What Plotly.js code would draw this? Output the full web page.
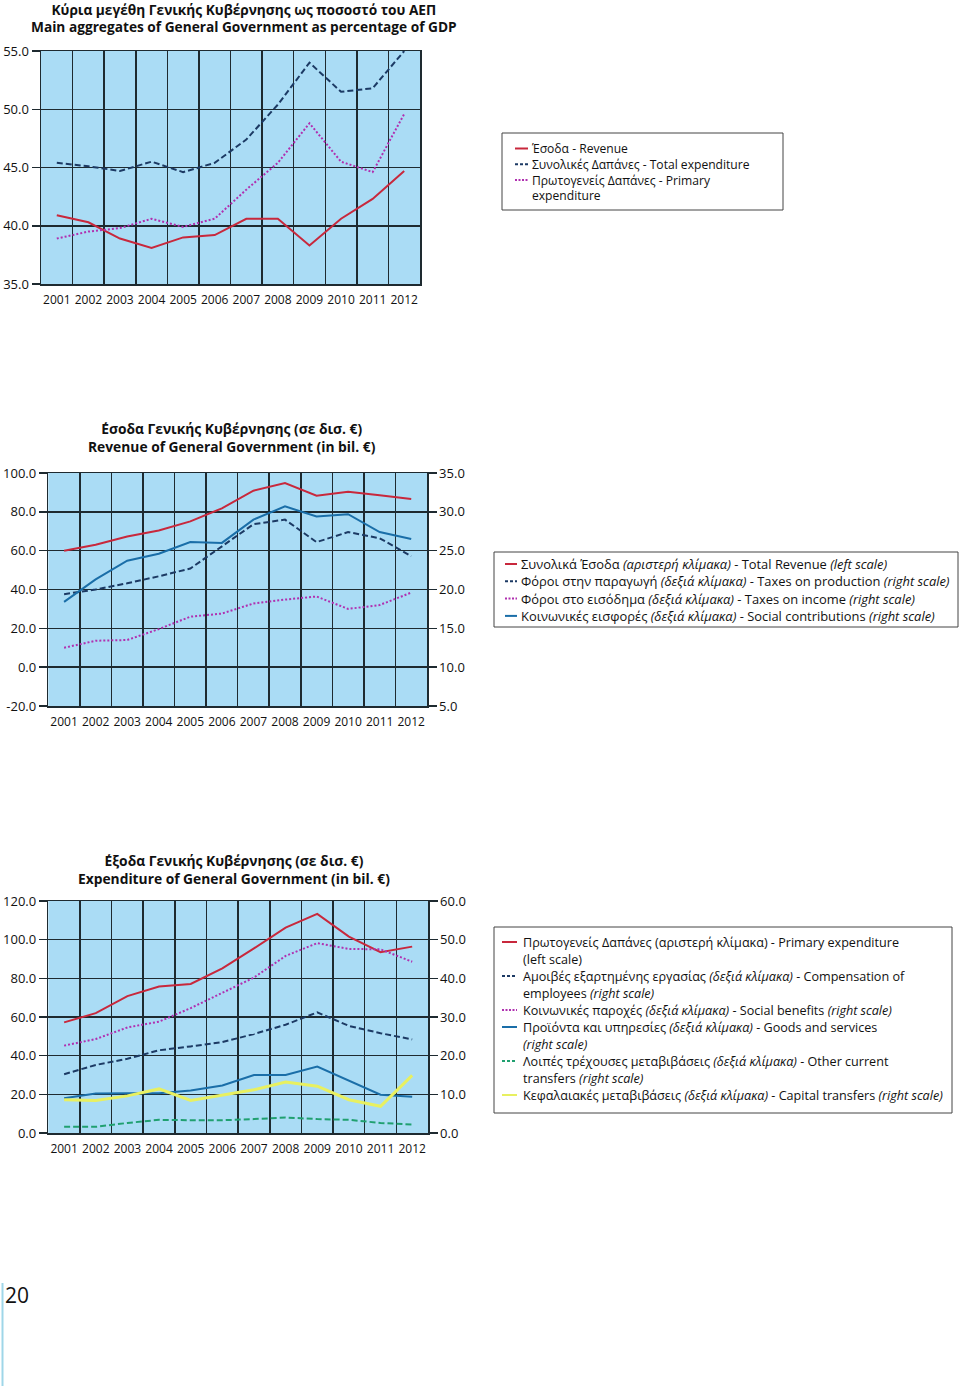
<!DOCTYPE html>
<html><head><meta charset="utf-8">
<script src="https://cdn.plot.ly/plotly-3.0.1.min.js"></script>
<style>html,body{margin:0;padding:0;background:#fff}#chart{width:960px;height:1386px}</style>
</head><body><div id="chart"></div>
<script>
// ---------- DATA ----------
const years = ['2001','2002','2003','2004','2005','2006','2007','2008','2009','2010','2011','2012'];

// Chart 1: % of GDP
const gdpRevenue      = [40.9, 40.3, 38.9, 38.1, 39.0, 39.2, 40.6, 40.6, 38.3, 40.6, 42.3, 44.7];
const gdpTotalExp     = [45.4, 45.1, 44.7, 45.5, 44.6, 45.4, 47.4, 50.4, 54.0, 51.5, 51.8, 55.0];
const gdpPrimaryExp   = [38.9, 39.5, 39.8, 40.6, 39.9, 40.6, 43.1, 45.4, 48.8, 45.5, 44.6, 49.6];

// Chart 2: Revenue (bil. €)
const revTotal        = [60.0, 63.0, 67.3, 70.4, 75.1, 81.8, 90.9, 94.8, 88.3, 90.4, 88.5, 86.6];
const revProdTaxes    = [19.4, 20.0, 20.8, 21.7, 22.7, 25.6, 28.4, 29.0, 26.1, 27.4, 26.6, 24.3];
const revIncomeTaxes  = [12.5, 13.4, 13.5, 14.9, 16.5, 16.9, 18.2, 18.7, 19.1, 17.5, 18.0, 19.6];
const revSocialContr  = [18.4, 21.3, 23.7, 24.6, 26.1, 26.0, 29.0, 30.7, 29.4, 29.7, 27.4, 26.5];

// Chart 3: Expenditure (bil. €)
const expPrimary      = [57.2, 62.0, 70.8, 75.8, 77.1, 85.2, 95.5, 106.2, 113.3, 101.6, 93.5, 96.4];
const expCompensation = [15.2, 17.6, 19.2, 21.4, 22.4, 23.5, 25.6, 28.0, 31.2, 27.7, 25.8, 24.2];
const expSocialBen    = [22.6, 24.3, 27.3, 28.8, 32.3, 36.2, 40.2, 45.8, 49.1, 47.6, 47.5, 44.3];
const expGoods        = [9.0, 10.2, 10.3, 10.3, 11.0, 12.3, 15.0, 15.0, 17.2, 13.6, 9.9, 9.4];
const expOtherTransf  = [1.6, 1.6, 2.6, 3.4, 3.3, 3.3, 3.6, 4.0, 3.6, 3.4, 2.6, 2.2];
const expCapital      = [8.6, 8.4, 9.6, 11.4, 8.4, 9.8, 11.2, 13.2, 12.1, 8.6, 6.9, 14.9];

// Tick values
const gdpTicks       = [35, 40, 45, 50, 55];
const revLeftTicks   = [-20, 0, 20, 40, 60, 80, 100];
const revRightTicks  = [5, 10, 15, 20, 25, 30, 35];
const expLeftTicks   = [0, 20, 40, 60, 80, 100, 120];
const expRightTicks  = [0, 10, 20, 30, 40, 50, 60];

// Titles & legend texts
const title1 = ['Κύρια μεγέθη Γενικής Κυβέρνησης ως ποσοστό του ΑΕΠ', 'Main aggregates of General Government as percentage of GDP'];
const title2 = ['΄Εσοδα Γενικής Κυβέρνησης (σε δισ. €)', 'Revenue of General Government (in bil. €)'];
const title3 = ['΄Εξοδα Γενικής Κυβέρνησης (σε δισ. €)', 'Expenditure of General Government (in bil. €)'];

const legend1 = [
  ['Έσοδα - Revenue'],
  ['Συνολικές Δαπάνες - Total expenditure'],
  ['Πρωτογενείς Δαπάνες - Primary', 'expenditure']
];
const legend2 = [
  ['Συνολικά Έσοδα <i>(αριστερή κλίμακα)</i> - Total Revenue <i>(left scale)</i>'],
  ['Φόροι στην παραγωγή <i>(δεξιά κλίμακα)</i> - Taxes on production <i>(right scale)</i>'],
  ['Φόροι στο εισόδημα <i>(δεξιά κλίμακα)</i> - Taxes on income <i>(right scale)</i>'],
  ['Κοινωνικές εισφορές <i>(δεξιά κλίμακα)</i> - Social contributions <i>(right scale)</i>']
];
const legend3 = [
  ['Πρωτογενείς Δαπάνες (αριστερή κλίμακα) - Primary expenditure', '(left scale)'],
  ['Αμοιβές εξαρτημένης εργασίας <i>(δεξιά κλίμακα)</i> - Compensation of', 'employees <i>(right scale)</i>'],
  ['Κοινωνικές παροχές <i>(δεξιά κλίμακα)</i> - Social benefits <i>(right scale)</i>'],
  ['Προϊόντα και υπηρεσίες <i>(δεξιά κλίμακα)</i> - Goods and services', '<i>(right scale)</i>'],
  ['Λοιπές τρέχουσες μεταβιβάσεις <i>(δεξιά κλίμακα)</i> - Other current', 'transfers <i>(right scale)</i>'],
  ['Κεφαλαιακές μεταβιβάσεις <i>(δεξιά κλίμακα)</i> - Capital transfers <i>(right scale)</i>']
];

// ---------- STYLE ----------
const W = 960, H = 1386;
const FONT = 'Open Sans, Noto Sans, sans-serif';
const C = {
  red: '#c8283c', navy: '#1c3a64', magenta: '#b030b0', blue: '#1a6ea8',
  green: '#20a070', yellow: '#e8f060'
};
const ST = {
  red:     {color: C.red, width: 2, dash: 'solid'},
  navy:    {color: C.navy, width: 2, dash: '6px,3px'},
  magenta: {color: C.magenta, width: 2, dash: '2px,2px'},
  blue:    {color: C.blue, width: 2, dash: 'solid'},
  green:   {color: C.green, width: 2, dash: '6px,3px'},
  yellow:  {color: C.yellow, width: 3, dash: 'solid'}
};
const px = x => x / W;
const py = y => 1 - y / H;

function tr(y, style, xa, ya, name) {
  return {x: years, y: y, type: 'scatter', mode: 'lines', name: name,
    line: Object.assign({}, style), xaxis: xa, yaxis: ya, showlegend: false, hoverinfo: 'x+y'};
}

const data = [
  tr(gdpRevenue, ST.red, 'x', 'y', 'Revenue'),
  tr(gdpTotalExp, ST.navy, 'x', 'y', 'Total expenditure'),
  tr(gdpPrimaryExp, ST.magenta, 'x', 'y', 'Primary expenditure'),

  tr(revTotal, ST.red, 'x2', 'y2', 'Total Revenue'),
  tr(revProdTaxes, ST.navy, 'x2', 'y3', 'Taxes on production'),
  tr(revIncomeTaxes, ST.magenta, 'x2', 'y3', 'Taxes on income'),
  tr(revSocialContr, ST.blue, 'x2', 'y3', 'Social contributions'),

  tr(expPrimary, ST.red, 'x3', 'y4', 'Primary expenditure'),
  tr(expCompensation, ST.navy, 'x3', 'y5', 'Compensation of employees'),
  tr(expSocialBen, ST.magenta, 'x3', 'y5', 'Social benefits'),
  tr(expGoods, ST.blue, 'x3', 'y5', 'Goods and services'),
  tr(expOtherTransf, ST.green, 'x3', 'y5', 'Other current transfers'),
  tr(expCapital, ST.yellow, 'x3', 'y5', 'Capital transfers')
];

const GRID = '#1e2a30';
function xAxis(domain, anchor) {
  return {domain: domain, anchor: anchor, type: 'category', range: [-0.5, 11.5],
    tickson: 'boundaries', showgrid: true, gridcolor: GRID, gridwidth: 1.5,
    ticks: '', showline: true, linecolor: GRID, linewidth: 1.5, mirror: true,
    tickangle: 0, tickfont: {family: FONT, size: 12, color: '#111'}, ticklabelstandoff: 4,
    fixedrange: true, automargin: false, zeroline: false};
}
function yAxis(domain, anchor, range, ticks, side, overlay) {
  const a = {domain: domain, anchor: anchor, range: range, tickmode: 'array',
    tickvals: ticks, ticktext: ticks.map(v => v.toFixed(1)),
    ticks: 'outside', ticklen: 8, tickcolor: GRID, tickwidth: 1.5,
    showgrid: !overlay, gridcolor: GRID, gridwidth: 1.5, zeroline: false,
    showline: true, linecolor: GRID, linewidth: 1.5, side: side,
    tickfont: {family: FONT, size: 13, color: '#111'}, fixedrange: true, automargin: false};
  if (overlay) { a.overlaying = overlay; delete a.domain; a.mirror = false; }
  else { a.mirror = true; }
  return a;
}

const d1x = [px(41), px(420)], d1y = [py(284), py(51)];
const d2x = [px(48.3), px(427)], d2y = [py(706), py(473)];
const d3x = [px(48.3), px(428)], d3y = [py(1133), py(901)];

const layout = {
  width: W, height: H, margin: {l: 0, r: 0, t: 0, b: 0},
  paper_bgcolor: '#ffffff', plot_bgcolor: '#aadcf5',
  font: {family: FONT, color: '#111'},
  showlegend: false,
  xaxis: xAxis(d1x, 'y'),
  yaxis: yAxis(d1y, 'x', [35, 55], gdpTicks, 'left'),
  xaxis2: xAxis(d2x, 'y2'),
  yaxis2: yAxis(d2y, 'x2', [-20, 100], revLeftTicks, 'left'),
  yaxis3: yAxis(null, 'x2', [5, 35], revRightTicks, 'right', 'y2'),
  xaxis3: xAxis(d3x, 'y4'),
  yaxis4: yAxis(d3y, 'x3', [0, 120], expLeftTicks, 'left'),
  yaxis5: yAxis(null, 'x3', [0, 60], expRightTicks, 'right', 'y4'),
  annotations: [], shapes: []
};

// Text block: one annotation, line spacing = gap px, glyph size = size px
function textBlock(lines, x, yFirst, gap, size, anchorX, bold) {
  const n = lines.length;
  const yMid = yFirst + gap * (n - 1) / 2;
  const txt = lines.map(t => '<span style="font-size:' + size + 'px">' + (bold ? '<b>' + t + '</b>' : t) + '</span>').join('<br>');
  layout.annotations.push({text: txt, xref: 'paper', yref: 'paper', x: px(x), y: py(yMid),
    xanchor: anchorX, yanchor: 'middle', align: anchorX === 'center' ? 'center' : 'left',
    showarrow: false, borderpad: 0,
    font: {family: FONT, size: gap / 1.3, color: '#111'}});
}

// Titles
textBlock(title1, 244, 10, 17, 13.7, 'center', true);
textBlock(title2, 232, 428, 18, 13.8, 'center', true);
textBlock(title3, 234, 860, 18, 13.8, 'center', true);

// Legends (box, line samples, texts)
function legendDash(s) {
  if (s.dash === 'solid') return 'solid';
  if (s.dash === '2px,2px') return '2px,1.5px';
  return '3px,2px';
}
function addLegend(items, styles, box, sx0, sx1, tx, yFirst, gap, size) {
  layout.shapes.push({type: 'rect', xref: 'paper', yref: 'paper',
    x0: px(box[0]), x1: px(box[1]), y0: py(box[2]), y1: py(box[3]),
    line: {color: '#444', width: 1}, fillcolor: 'rgba(255,255,255,0)'});
  const all = [];
  items.forEach((lines, i) => {
    const s = styles[i];
    const y = yFirst + all.length * gap;
    layout.shapes.push({type: 'line', xref: 'paper', yref: 'paper',
      x0: px(sx0), x1: px(sx1), y0: py(y), y1: py(y),
      line: {color: s.color, width: 2, dash: legendDash(s)}});
    lines.forEach(t => all.push(t));
  });
  textBlock(all, tx, yFirst, gap, size, 'left', false);
}
addLegend(legend1, [ST.red, ST.navy, ST.magenta], [502, 783, 133, 210], 515, 528, 530, 148.5, 15.8, 12.1);
addLegend(legend2, [ST.red, ST.navy, ST.magenta, ST.blue], [494, 958, 552, 627], 505, 517, 520, 564, 17.3, 12.9);
addLegend(legend3, [ST.red, ST.navy, ST.magenta, ST.blue, ST.green, ST.yellow], [494, 952, 927, 1113], 502, 517, 522, 942, 17, 12.6);

// Page number and side line
layout.shapes.push({type: 'line', xref: 'paper', yref: 'paper', x0: px(2.5), x1: px(2.5), y0: py(1283), y1: py(1386),
  line: {color: '#9fd6e8', width: 2}});
layout.annotations.push({text: '20', xref: 'paper', yref: 'paper', x: px(3), y: py(1295),
  xanchor: 'left', yanchor: 'middle', showarrow: false, font: {family: FONT, size: 21, color: '#111'}});

Plotly.newPlot('chart', data, layout, {staticPlot: true, displayModeBar: false});
</script>
</body></html>
